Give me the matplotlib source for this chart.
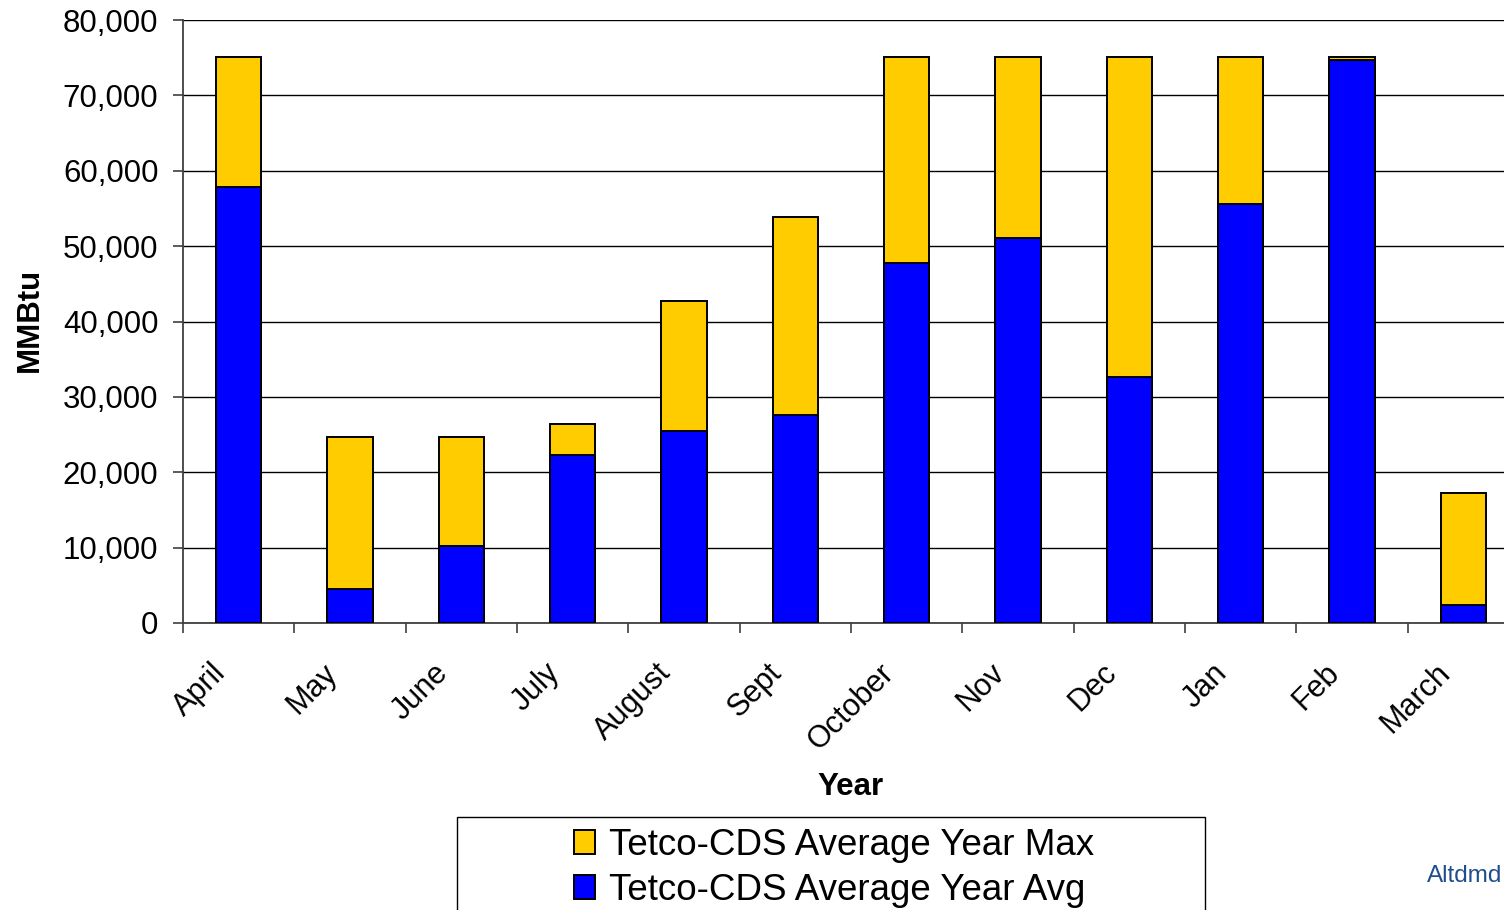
import matplotlib
matplotlib.use("Agg")
import matplotlib.pyplot as plt
from matplotlib.patches import Rectangle
from matplotlib.ticker import FuncFormatter, FixedLocator
import matplotlib.transforms as mtransforms
import numpy as np

plt.rcParams['font.family'] = ['Liberation Sans', 'DejaVu Sans']

months = ["April", "May", "June", "July", "August", "Sept", "October",
          "Nov", "Dec", "Jan", "Feb", "March"]
year_max = [75100, 24700, 24700, 26400, 42700, 53800, 75100, 75100, 75100, 75100, 75100, 17200]
year_avg = [57900, 4500, 10200, 22300, 25500, 27600, 47800, 51100, 32600, 55600, 74700, 2400]
y_ticks = [0, 10000, 20000, 30000, 40000, 50000, 60000, 70000, 80000]

W, H = 1504, 910
fig = plt.figure(figsize=(W / 100, H / 100), dpi=100)
ax = fig.add_axes([183 / W, 1 - 623 / H, (1519 - 183) / W, (623 - 20) / H])

x = np.arange(len(months))
bw = 0.41
ax.bar(x, year_max, width=bw, color="#FFCC00", edgecolor="black", linewidth=1.4,
       zorder=3, label="Tetco-CDS Average Year Max")
ax.bar(x, year_avg, width=bw, color="#0000FF", edgecolor="black", linewidth=1.4,
       zorder=4, label="Tetco-CDS Average Year Avg")

ax.set_xlim(-0.5, len(months) - 0.5)
ax.set_ylim(0, 80000)
ax.set_yticks(y_ticks)
ax.yaxis.set_major_formatter(FuncFormatter(lambda v, p: f"{int(v):,}"))
ax.grid(axis="y", color="black", linewidth=1.0, zorder=0)
ax.set_axisbelow(True)

for s in ["top", "right"]:
    ax.spines[s].set_visible(False)
ax.spines["left"].set_color("#404040")
ax.spines["left"].set_linewidth(1.3)
ax.spines["bottom"].set_color("#404040")
ax.spines["bottom"].set_linewidth(1.3)

ax.tick_params(axis="y", length=7.2, width=1.2, color="#404040", labelsize=22.5, pad=10.5)

# Category labels centred on bars, tick marks on category boundaries
ax.set_xticks(x)
ax.set_xticklabels(months, rotation=45, ha="right", fontsize=22)
ax.tick_params(axis="x", which="major", length=0, pad=25)
ax.xaxis.set_minor_locator(FixedLocator(np.arange(-0.5, len(months), 1.0)))
ax.tick_params(axis="x", which="minor", length=7.2, width=1.2, color="#404040")
offset = mtransforms.ScaledTranslation(-7 / 100, 0, fig.dpi_scale_trans)
for lbl in ax.get_xticklabels():
    lbl.set_transform(lbl.get_transform() + offset)

fig.text(30 / W, 1 - 320 / H, "MMBtu", rotation=90, ha="center", va="center",
         fontsize=22.5, fontweight="bold")
fig.text(850 / W, 1 - 787 / H, "Year", ha="center", va="center",
         fontsize=22.5, fontweight="bold")

# Legend box
fig.patches.append(Rectangle((457 / W, -0.05), (1205 - 457) / W, (1 - 817 / H) + 0.05,
                             transform=fig.transFigure, facecolor="white",
                             edgecolor="black", linewidth=1.0))
handles, labels = ax.get_legend_handles_labels()
fig.legend(handles, labels, loc="upper center", bbox_to_anchor=(834 / W, 1 - 806 / H),
           frameon=False, fontsize=26.5, handlelength=0.58, handleheight=0.6,
           handletextpad=0.36, labelspacing=0.27, borderpad=0.1)

fig.text(1502 / W, 1 - 876 / H, "Altdmd", ha="right", va="center",
         fontsize=17.5, color="#1F4E8C")

fig.savefig("out.png", dpi=100)
